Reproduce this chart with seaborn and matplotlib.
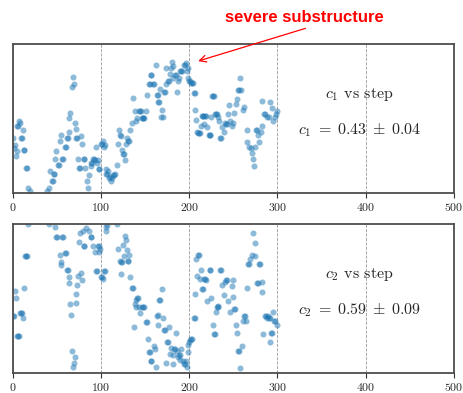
import matplotlib
matplotlib.use("Agg")
import matplotlib.pyplot as plt
import seaborn as sns
import pandas as pd

# ---- data (y in arbitrary units, panel range 0..1) ----
c1_steps = [0, 1, 2, 3, 4, 5, 6, 7, 8, 9, 10, 11, 12, 13, 15, 16, 17, 19,
            22, 27, 33,
            39, 41, 42, 44, 45, 46, 47, 48, 49, 51, 52, 53, 54, 56, 57, 59, 60,
            61, 62, 63, 64, 65, 67, 68, 69, 70, 71, 72, 73, 74, 75, 76, 77, 78,
            80, 81, 82, 84, 85, 86, 88, 89, 90, 91, 92, 93, 94, 95, 96, 97, 98,
            100, 101, 102, 103, 104, 105, 106, 107, 108, 109, 110, 111, 112,
            114, 115, 116, 118, 119, 120, 121, 123, 124, 125, 126, 127, 128,
            129, 131, 132, 133, 135, 136, 138, 139, 141, 143, 144, 145, 146,
            147, 148, 149, 151, 152, 154, 155, 156, 157, 159, 160, 162, 163,
            164, 165, 166, 167, 168, 169, 170, 171, 172, 173, 174, 176, 177,
            178, 179, 180, 181, 182, 184, 185, 186, 187, 188, 190, 191, 192,
            194, 195, 196, 197, 198, 199, 200, 201, 202, 203, 204, 205, 206,
            207, 208, 209, 210, 211, 212, 213, 214, 215, 216, 217, 218, 219,
            220, 222, 223, 224, 225, 226, 227, 228, 229, 230, 231, 232, 234,
            235, 236, 237, 239, 240, 242, 243, 244, 245, 246, 248, 249, 251,
            253, 254, 255, 256, 258, 259, 261, 262, 265, 266, 268, 270, 271,
            272, 273, 274, 276, 277, 278, 279, 281, 282, 283, 285, 286, 288,
            290, 292, 294, 295, 297, 298, 299]
c1_values = [.37, .30, .32, .25, .28, .45, .45, .48, .47, .37, .37, .42, .29, .29, .17, .17, .03, .01,
             -.08, -.1, -.07,
             .01, .03, .15, .08, .08, .13, .13, .23, .28, .19, .19, .35, .39, .23, .23, .31, .31,
             .37, .37, .41, .50, .54, .71, .78, .73, .47, .43, .37, .37, .23, .17, .17, .38, .33,
             .23, .23, .17, .08, .03, .12, .18, .20, .20, .23, .23, .22, .31, .20, .22, .16, .16,
             .33, .33, .35, .31, .32, .16, .13, .13, .15, .10, .11, .08, .10,
             .12, .12, .13, .19, .33, .42, .39, .38, .29, .26, .26, .22, .33,
             .37, .35, .35, .42, .47, .64, .55, .48, .50, .55, .55, .55, .50,
             .50, .50, .50, .55, .66, .73, .73, .79, .79, .73, .73, .86, .66,
             .61, .66, .61, .70, .51, .56, .51, .68, .68, .73, .84, .75, .75,
             .80, .84, .88, .85, .77, .79, .79, .68, .75, .77, .82, .82, .82,
             .86, .86, .87, .82, .84, .77, .75, .75, .74, .74, .74, .67, .67,
             .56, .49, .41, .40, .40, .40, .45, .52, .52, .52, .46, .52, .52,
             .44, .39, .39, .39, .51, .65, .65, .65, .53, .53, .53, .51, .48,
             .37, .37, .44, .41, .47, .46, .46, .53, .59, .48, .45, .47, .54,
             .60, .63, .69, .69, .77, .69, .56, .58, .42, .34, .31, .30, .27,
             .23, .18, .31, .42, .42, .39, .34, .41, .45, .62, .53, .53, .51,
             .51, .61, .57, .48, .51, .53, .55]

c2_steps = [0, 1, 2, 3, 5, 6, 7, 8, 9, 10, 11, 13, 14, 15, 16, 17,
            22, 28, 35,
            41, 48, 49, 50, 53, 54, 55, 56, 57, 59, 60, 61, 62, 63, 64, 65, 66,
            67, 68, 69, 70, 71, 72, 73, 74, 75, 76, 77, 78, 79, 80, 81, 83, 86,
            88, 89, 91, 93, 94, 95, 96, 97, 98, 99, 100, 101, 102, 103, 104,
            105, 106, 107, 110, 115, 118, 119, 121, 122, 123, 124, 125, 126,
            127, 128, 129, 130, 131, 132, 133, 135, 136, 137, 138, 139, 140,
            141, 142, 143, 144, 146, 147, 149, 151, 152, 153, 154, 155, 156,
            157, 160, 161, 162, 163, 164, 165, 166, 167, 169, 170, 171, 172,
            173, 175, 176, 177, 178, 179, 181, 182, 183, 184, 185, 186, 187,
            188, 189, 190, 191, 193, 194, 195, 196, 197, 198, 199, 200, 201,
            202, 203, 205, 206, 207, 208, 209, 210, 211, 212, 213, 214, 215,
            217, 218, 219, 220, 223, 224, 225, 227, 228, 229, 230, 231, 232,
            233, 235, 236, 237, 239, 241, 242, 243, 244, 246, 248, 249, 250,
            251, 252, 253, 254, 255, 256, 258, 260, 261, 262, 263, 264, 265,
            267, 268, 269, 271, 272, 274, 275, 277, 278, 279, 280, 282, 283,
            284, 286, 287, 288, 289, 290, 291, 292, 293, 294, 295, 296, 297, 299]
c2_values = [.38, .38, .55, .50, .25, .25, .25, .40, .40, .40, .37, .57, .78, .78, .78, 1.00,
             1.08, 1.1, 1.07,
             1.00, .98, .91, .91, .79, .72, .74, .91, .91, .80, .80, .69, .69, .64, .60, .46, .39,
             .15, .04, .07, .11, .47, .53, .59, .65, .88, .94, .67, .62, .95, .85, .85, .97, .95,
             .91, .91, .85, .81, .68, .68, .85, .85, .81, .83, .64, .64, .63, .68, .68,
             .95, .98, .99, 1.05, 1.03, 1.00, .83, .75, .66, .74, .74, .86, .78,
             .92, .89, .82, .75, .75, .79, .64, .57, .57, .31, .46, .44, .49,
             .50, .50, .44, .40, .44, .44, .44, .34, .34, .23, .14, .14, .08,
             .08, .18, .16, .04, .38, .39, .32, .49, .49, .56, .37, .29, .29,
             .07, .21, .21, .31, .13, .17, .06, .12, .16, .16, .27, .15, .11,
             .12, .12, .09, .16, .08, .06, .06, .08, .04, .14, .19, .21, .22,
             .23, .23, .37, .37, .53, .76, .65, .79, .79, .63, .69, .56, .56,
             .63, .63, .62, .48, .69, .69, .50, .32, .26, .26, .41, .44, .44,
             .45, .69, .69, .59, .52, .61, .62, .62, .48, .41, .58, .62, .51,
             .43, .43, .32, .27, .15, .15, .03, .18, .35, .38, .38, .35, .57,
             .73, .73, .76, .79, .94, .87, .78, .60, .60, .73, .73, .61, .54,
             .26, .38, .38, .37, .38, .37, .37, .21, .27, .27, .41, .35, .35, .32]

x_ticks = [0, 100, 200, 300, 400, 500]
labels = [(r"$c_1$ vs step", r"$c_1\;=\;0.43\;\pm\;0.04$"),
          (r"$c_2$ vs step", r"$c_2\;=\;0.59\;\pm\;0.09$")]

sns.set_theme(style="white")
plt.rcParams["font.family"] = "serif"
plt.rcParams["font.serif"] = ["cmr10", "DejaVu Serif"]
plt.rcParams["mathtext.fontset"] = "cm"
plt.rcParams["axes.formatter.use_mathtext"] = True

fig = plt.figure(figsize=(4.64, 3.93), dpi=100)
ax1 = fig.add_axes([0.028, 0.509, 0.950, 0.379])
ax2 = fig.add_axes([0.028, 0.051, 0.950, 0.380])

panels = [(ax1, c1_steps, c1_values), (ax2, c2_steps, c2_values)]
for i, (ax, st, vals) in enumerate(panels):
    df = pd.DataFrame({"step": st, "value": vals})
    sns.scatterplot(data=df, x="step", y="value", ax=ax, color="#1f77b4",
                    alpha=0.5, s=19, linewidth=0, legend=False)
    ax.set_xlim(0, 500)
    ax.set_ylim(0, 1)
    ax.set_xticks(x_ticks)
    ax.set_yticks([])
    ax.set_xlabel("")
    ax.set_ylabel("")
    ax.tick_params(axis="x", direction="out", length=3.5, width=0.8,
                   color="#333333", labelsize=8.5, pad=2, bottom=True)
    for t in ax.get_xticklabels():
        t.set_fontfamily(["cmr10", "DejaVu Serif"])
    ax.grid(axis="x", linestyle="--", color="#999999", linewidth=0.6)
    for sp in ax.spines.values():
        sp.set_color("#4d4d4d")
        sp.set_linewidth(1.3)
    ax.text(393, 0.66, labels[i][0], fontsize=11.5, ha="center", va="center")
    ax.text(393, 0.42, labels[i][1], fontsize=11.5, ha="center", va="center")

ax1.annotate("severe substructure", xy=(207, 0.88), xytext=(331, 1.18),
             xycoords="data", textcoords="data", ha="center", va="center",
             color="red", fontsize=12, fontweight="bold",
             family=["Liberation Sans", "DejaVu Sans"],
             annotation_clip=False,
             arrowprops=dict(arrowstyle="->", color="red", lw=0.9,
                             relpos=(0.58, 0.0), shrinkA=1, shrinkB=2))

fig.savefig("out.png", dpi=100)
